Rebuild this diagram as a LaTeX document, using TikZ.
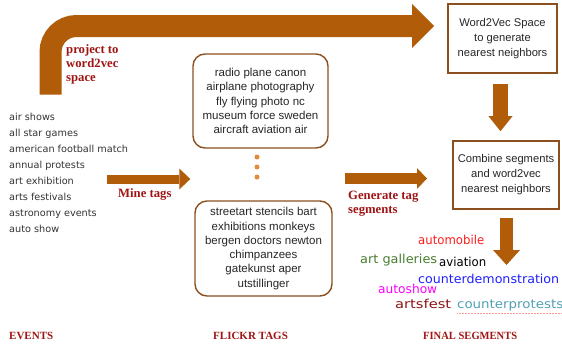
\documentclass[tikz,border=0pt]{standalone}
\usepackage{fontspec}
\usepackage{graphicx}
\usetikzlibrary{arrows.meta}
\setmainfont{Liberation Sans}
\newfontfamily\evfont{DejaVu Sans}
\newfontfamily\serfont{Liberation Serif}
\newfontfamily\segfont{DejaVu Sans}
\definecolor{arrowbrown}{RGB}{176,92,8}
\definecolor{boxbrown}{RGB}{139,80,30}
\definecolor{labred}{RGB}{160,20,20}
\definecolor{dotorange}{RGB}{224,140,60}
\definecolor{evgray}{RGB}{51,51,51}
\definecolor{segred}{RGB}{255,30,30}
\definecolor{seggreen}{RGB}{70,125,45}
\definecolor{segblue}{RGB}{30,30,255}
\definecolor{segmag}{RGB}{255,0,255}
\definecolor{segdark}{RGB}{140,20,20}
\definecolor{segteal}{RGB}{80,160,180}
\newcommand\fitw[2]{\resizebox{#1}{\height}{#2}}
\begin{document}
\begin{tikzpicture}[x=1pt,y=-1pt,
  sqbox/.style={draw=boxbrown,line width=1.6pt,inner sep=0pt,align=center,font=\fontsize{11.2}{15}\selectfont,text=black!85},
  tagbox/.style={draw=boxbrown,line width=1.4pt,rounded corners=12pt,inner sep=0pt,align=center,font=\fontsize{11.5}{14.3}\selectfont,text=black!85},
  lab/.style={font=\serfont\bfseries\fontsize{12.7}{14}\selectfont,text=labred,inner sep=0pt,align=left},
  biglab/.style={font=\serfont\bfseries\fontsize{11}{12}\selectfont,text=labred,inner sep=0pt,anchor=base west},
  seg/.style={font=\segfont\fontsize{12.3}{13}\selectfont,inner sep=0pt,anchor=base west},
  dotst/.style={circle,fill=dotorange,inner sep=0pt,minimum size=5pt},
  blockarrow/.style={draw=arrowbrown,line width=#1}
]
\useasboundingbox (0,0) rectangle (562,346);

% boxes
\node[sqbox,minimum width=109pt,minimum height=69pt] (w2v) at (502.5,38.5) {Word2Vec Space\\to generate\\nearest neighbors};
\node[sqbox,minimum width=106pt,minimum height=68pt] (comb) at (506,175) {Combine segments\\and word2vec\\nearest neighbors};

\node[tagbox,minimum width=135pt,minimum height=94pt] (tagA) at (260.5,101) {radio plane canon\\airplane photography\\fly flying photo nc\\museum force sweden\\aircraft aviation air};
\node[tagbox,minimum width=137pt,minimum height=95pt] (tagB) at (263.5,248.5) {streetart stencils bart\\exhibitions monkeys\\bergen doctors newton\\chimpanzees\\gatekunst aper\\utstillinger};

\node[dotst] (d1) at (257,157) {};
\node[dotst] (d2) at (257,167) {};
\node[dotst] (d3) at (257,177) {};

% events
\node[font=\evfont\fontsize{9.7}{16}\selectfont,text=evgray,align=left,anchor=west,inner sep=0pt] (events) at (9,173)
 {air shows\\all star games\\american football match\\annual protests\\art exhibition\\arts festivals\\astronomy events\\auto show};

% big arrow
\coordinate (bigS) at (50.5,94.5);
\coordinate (bigT) at ([xshift=-13pt]w2v.west |- 0,26);
\draw[blockarrow=22pt,rounded corners=26pt,-{Triangle[length=22pt,width=44pt,line width=0pt]}] (bigS) |- (bigT);

% down arrows
\coordinate (a1s) at ([xshift=-2pt,yshift=-10pt]w2v.south);
\coordinate (a1e) at ([yshift=9pt]a1s |- comb.north);
\draw[blockarrow=15pt,-{Triangle[length=15pt,width=24pt,line width=0pt]}] (a1s) -- (a1e);
\coordinate (a2s) at ([xshift=0.5pt,yshift=-8pt]comb.south);
\coordinate (a2e) at (a2s |- 0,265);
\draw[blockarrow=13pt,-{Triangle[length=15pt,width=27pt,line width=0pt]}] (a2s) -- (a2e);

% mine tags arrow
\coordinate (mineS) at (107,179);
\coordinate (mineE) at ([xshift=-2pt]tagA.west |- 0,179);
\draw[blockarrow=9pt,-{Triangle[length=11pt,width=21pt,line width=0pt]}] (mineS) -- (mineE);
% generate arrow
\coordinate (genS) at (345,178.5);
\coordinate (genE) at (427,178.5);
\draw[blockarrow=11pt,-{Triangle[length=10pt,width=21pt,line width=0pt]}] (genS) -- (genE);

% labels
\node[lab,anchor=north west] (projlab) at (66,44) {project to\\word2vec\\space};
\node[lab,anchor=base west] (minelab) at (118,197) {Mine tags};
\node[lab,anchor=north west] (genlab) at (348,191) {Generate tag\\segments};

\node[biglab] (evlab) at (9,339) {EVENTS};
\node[biglab] (fllab) at (213,339) {FLICKR TAGS};
\node[biglab] (fslab) at (423,339) {\fitw{94pt}{FINAL SEGMENTS}};

% final segments
\node[seg,text=segred] (s1) at (418,244) {\fitw{66pt}{automobile}};
\node[seg,text=seggreen] (s2) at (360,263) {\fitw{77pt}{art galleries}};
\node[seg,text=black] (s3) at (439,266) {\fitw{47pt}{aviation}};
\node[seg,text=segblue] (s4) at (418,283) {\fitw{141pt}{counterdemonstration}};
\node[seg,text=segmag] (s5) at (378,293) {\fitw{59pt}{autoshow}};
\node[seg,text=segdark] (s6) at (395,308) {\fitw{56pt}{artsfest}};
\node[seg,text=segteal] (s7) at (457,308) {\fitw{106pt}{counterprotests}};
\draw[segred!45,densely dotted,line width=0.5pt] ([yshift=-5pt]s7.base west) -- ([yshift=-5pt]s7.base east);
\end{tikzpicture}
\end{document}
